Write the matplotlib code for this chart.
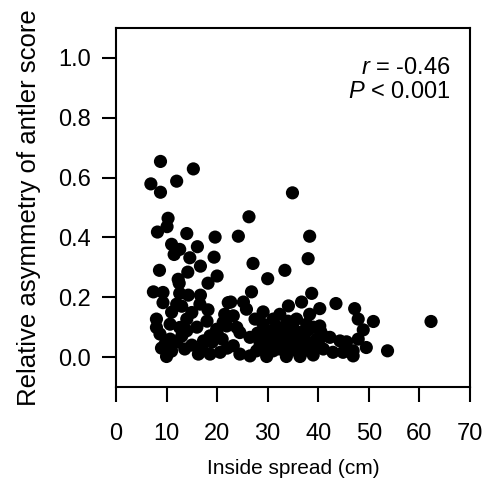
import matplotlib
matplotlib.use("Agg")
import matplotlib.pyplot as plt

plt.rcParams["font.family"] = ["Liberation Sans", "DejaVu Sans"]
plt.rcParams["mathtext.fontset"] = "custom"
plt.rcParams["mathtext.rm"] = "Liberation Sans"
plt.rcParams["mathtext.it"] = "Liberation Sans:italic"

# inside spread (cm) vs relative asymmetry
spread = [
    8.8, 15.3, 6.9, 12.0, 8.8, 10.3, 10.1, 8.2, 14.0, 19.6, 11.0, 12.6, 16.1, 11.5, 14.6,
    19.4, 16.7, 8.6, 14.2, 12.3, 20.0,
    12.5, 18.2, 7.4, 9.3, 12.6, 14.3, 16.7, 9.3, 12.0, 16.6, 22.2, 18.2, 15.0, 8.0, 10.7,
    14.0, 12.6, 8.0, 8.7, 10.7, 14.0, 9.7, 11.0, 17.3, 18.6, 19.9, 21.2, 13.6, 10.0, 16.3,
    18.6, 20.6,
    34.9, 26.3, 24.2, 38.3, 38.0, 27.1, 33.4, 30.0,
    26.8, 38.7, 22.7, 25.2, 25.8, 43.5, 36.7, 34.1, 40.3, 29.1, 21.5, 23.2, 38.3, 32.4,
    27.5, 31.1, 35.7, 29.1, 33.7, 37.7, 40.3, 21.9, 23.9, 36.4, 33.1, 24.5, 26.5, 42.3,
    39.7, 44.3, 30.4, 35.0, 28.5, 37.7, 23.2, 32.4, 41.0, 24.5, 26.5, 29.8, 33.7, 36.4,
    39.0, 42.9, 27.8, 31.1, 35.7,
    47.2, 47.9, 50.9, 62.3, 48.9, 45.6, 47.9, 49.5, 46.9, 44.9, 53.7, 46.9,
    34.0, 35.0, 37.0, 38.0, 31.0, 32.0, 34.5, 38.0, 40.5, 30.0,
    28.0, 29.0, 31.0, 32.0, 33.0, 34.0, 35.0, 36.0, 36.0, 37.0, 38.0, 39.0, 39.0, 40.0,
    41.0, 33.0, 35.0, 37.0, 30.0, 31.0,
    9.0, 11.0, 12.0, 13.0, 15.0, 17.0, 19.0, 21.0, 22.0, 20.0, 16.0, 18.0, 11.0, 13.0,
]
asym = [
    0.654, 0.629, 0.579, 0.588, 0.551, 0.464, 0.436, 0.418, 0.413, 0.401, 0.377, 0.360,
    0.369, 0.343, 0.332, 0.334, 0.304, 0.290, 0.284, 0.260, 0.271,
    0.247, 0.247, 0.218, 0.216, 0.213, 0.207, 0.207, 0.182, 0.177, 0.177, 0.182, 0.158,
    0.149, 0.127, 0.110, 0.127, 0.099, 0.099, 0.077, 0.060, 0.088, 0.043, 0.043, 0.054,
    0.071, 0.093, 0.116, 0.027, 0.002, 0.010, 0.010, 0.016,
    0.549, 0.469, 0.404, 0.404, 0.329, 0.313, 0.290, 0.262,
    0.218, 0.213, 0.184, 0.184, 0.160, 0.179, 0.184, 0.171, 0.162, 0.151, 0.143, 0.138,
    0.143, 0.143, 0.127, 0.127, 0.127, 0.110, 0.110, 0.110, 0.104, 0.104, 0.099, 0.082,
    0.077, 0.082, 0.066, 0.066, 0.060, 0.054, 0.054, 0.049, 0.043, 0.043, 0.038, 0.027,
    0.027, 0.010, 0.004, 0.002, 0.002, 0.002, 0.007, 0.016, 0.021, 0.021, 0.021,
    0.162, 0.127, 0.119, 0.119, 0.091, 0.051, 0.060, 0.032, 0.021, 0.016, 0.021, 0.004,
    0.090, 0.070, 0.060, 0.090, 0.090, 0.060, 0.030, 0.030, 0.085, 0.080,
    0.080, 0.060, 0.040, 0.100, 0.050, 0.120, 0.100, 0.060, 0.040, 0.080, 0.050, 0.100,
    0.030, 0.050, 0.070, 0.030, 0.035, 0.020, 0.030, 0.070,
    0.030, 0.020, 0.050, 0.070, 0.040, 0.030, 0.050, 0.060, 0.030, 0.080, 0.100, 0.120,
    0.150, 0.170,
]

xticks = [0, 10, 20, 30, 40, 50, 60, 70]
yticks = [0.0, 0.2, 0.4, 0.6, 0.8, 1.0]

fig = plt.figure(figsize=(4.9, 4.94), dpi=100)
ax = fig.add_axes([0.2367, 0.2166, 0.7224, 0.7267])

ax.scatter(spread, asym, s=90, color="black", edgecolors="none")

ax.set_xlim(0, 70)
ax.set_ylim(-0.1, 1.1)
ax.set_xticks(xticks)
ax.set_xticklabels([str(t) for t in xticks])
ax.set_yticks(yticks)
ax.set_yticklabels([f"{t:.1f}" for t in yticks])

for sp in ax.spines.values():
    sp.set_linewidth(1.5)
ax.tick_params(axis="x", direction="out", length=11, width=1.5, pad=15, labelsize=17)
ax.tick_params(axis="y", direction="out", length=10, width=1.5, pad=8, labelsize=17)

ax.set_xlabel("Inside spread (cm)", fontsize=15, labelpad=10)
ax.set_ylabel("Relative asymmetry of antler score", fontsize=18.5, labelpad=12)

ax.text(0.945, 0.889, "$r$ = -0.46", transform=ax.transAxes, ha="right", va="center", fontsize=17)
ax.text(0.945, 0.822, "$P$ < 0.001", transform=ax.transAxes, ha="right", va="center", fontsize=17)

fig.savefig("out.png", dpi=100)
